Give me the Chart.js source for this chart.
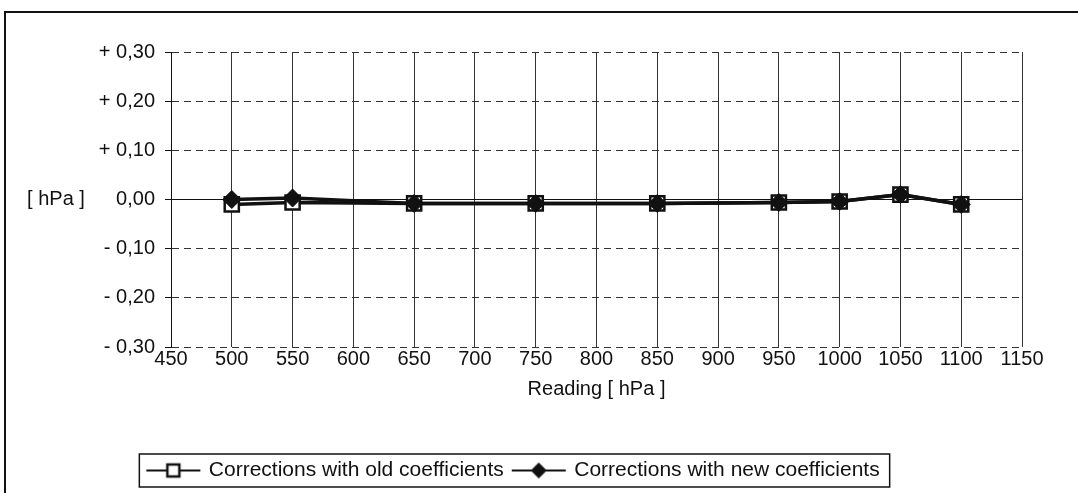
<!DOCTYPE html>
<html>
<head>
<meta charset="utf-8">
<script src="https://cdn.jsdelivr.net/npm/chart.js@4"></script>
<style>
  html, body { margin: 0; padding: 0; background: #fff; }
  #frame {
    position: absolute; left: 4px; top: 11px;
    width: 1072px; height: 480px;
    border-left: 2px solid #111; border-top: 2px solid #111;
  }
  canvas { display: block; }
</style>
</head>
<body>
<div id="frame"><canvas id="chart" width="1072" height="480"></canvas></div>
<script>
const readings = [500, 550, 650, 750, 850, 950, 1000, 1050, 1100];
const oldCorrections = [-0.010, -0.006, -0.008, -0.008, -0.008, -0.006, -0.004, 0.010, -0.010];
const newCorrections = [0.000, 0.003, -0.008, -0.008, -0.008, -0.006, -0.004, 0.010, -0.010];
const seriesNames = ['Corrections with old coefficients', 'Corrections with new coefficients'];

const FONT = 'Liberation Sans, Arial, sans-serif';
const INK = '#111';

function toPoints(values) {
    return readings.map((x, i) => ({ x: x, y: values[i] }));
}

function fmtTick(v) {
    if (Math.abs(v) < 1e-9) return '0,00';
    const s = Math.abs(v).toFixed(2).replace('.', ',');
    return (v > 0 ? '+ ' : '- ') + s;
}

// line + marker swatch for the legend
function legendIcon(style) {
    const c = document.createElement('canvas');
    c.width = 56; c.height = 18;
    const g = c.getContext('2d');
    g.strokeStyle = INK;
    g.lineWidth = 2;
    g.beginPath(); g.moveTo(1, 9); g.lineTo(55, 9); g.stroke();
    if (style === 'rect') {
        g.fillStyle = '#fff';
        g.lineWidth = 2.5;
        g.fillRect(22, 3, 12, 12);
        g.strokeRect(22, 3, 12, 12);
    } else {
        g.fillStyle = INK;
        g.beginPath();
        g.moveTo(28, 1); g.lineTo(36, 9); g.lineTo(28, 17); g.lineTo(20, 9);
        g.closePath(); g.fill();
    }
    return c;
}
const icons = [legendIcon('rect'), legendIcon('rectRot')];

const extras = {
    id: 'extras',
    afterDraw(chart) {
        const ctx = chart.ctx;
        const y = chart.scales.y;
        ctx.save();
        // y axis caption, horizontal like the original
        ctx.fillStyle = INK;
        ctx.font = '20px ' + FONT;
        ctx.textAlign = 'center';
        ctx.textBaseline = 'middle';
        ctx.fillText('[ hPa ]', 50, y.getPixelForValue(0));
        // frame round the legend items
        const boxes = chart.legend.legendHitBoxes;
        if (boxes && boxes.length) {
            const l = Math.min(...boxes.map(b => b.left)) - 9;
            const r = Math.max(...boxes.map(b => b.left + b.width)) + 10;
            const t = Math.min(...boxes.map(b => b.top)) - 6;
            const bt = Math.max(...boxes.map(b => b.top + b.height)) + 6;
            ctx.strokeStyle = INK;
            ctx.lineWidth = 1.5;
            ctx.strokeRect(l, t, r - l, bt - t);
        }
        ctx.restore();
    }
};

new Chart(document.getElementById('chart'), {
    type: 'line',
    data: {
        datasets: [
            {
                label: seriesNames[0],
                data: toPoints(oldCorrections),
                borderColor: INK,
                borderWidth: 3.5,
                pointStyle: 'rect',
                pointRadius: 10,
                pointBorderWidth: 2.5,
                pointBackgroundColor: '#fff',
                pointBorderColor: INK,
                order: 1
            },
            {
                label: seriesNames[1],
                data: toPoints(newCorrections),
                borderColor: INK,
                borderWidth: 3.5,
                pointStyle: 'rectRot',
                pointRadius: 9,
                pointBorderWidth: 1,
                pointBackgroundColor: INK,
                pointBorderColor: INK,
                order: 0
            }
        ]
    },
    options: {
        responsive: false,
        animation: false,
        events: [],
        layout: { padding: { top: 39, right: 56, bottom: 2, left: 0 } },
        scales: {
            x: {
                type: 'linear',
                min: 450,
                max: 1150,
                afterFit: s => { s.height = 103; },
                ticks: {
                    stepSize: 50,
                    padding: 0,
                    color: INK,
                    font: { family: FONT, size: 20 },
                    maxRotation: 0,
                    callback: v => String(v)
                },
                grid: { color: '#333', lineWidth: 1, drawTicks: false, tickLength: 0 },
                border: { display: false },
                title: {
                    display: true,
                    text: 'Reading [ hPa ]',
                    color: INK,
                    font: { family: FONT, size: 20 },
                    padding: { top: 4, bottom: 49 }
                }
            },
            y: {
                min: -0.3,
                max: 0.3,
                afterFit: s => { s.width = 165; },
                ticks: {
                    stepSize: 0.1,
                    padding: 10,
                    color: INK,
                    font: { family: FONT, size: 20 },
                    callback: v => fmtTick(v)
                },
                grid: {
                    color: ctx => (ctx.tick && Math.abs(ctx.tick.value) < 1e-9) ? INK : '#333',
                    lineWidth: 1,
                    tickLength: 6,
                    tickColor: INK,
                    tickBorderDash: []
                },
                border: {
                    display: true,
                    color: INK,
                    width: 1,
                    dash: ctx => (ctx.tick && Math.abs(ctx.tick.value) < 1e-9) ? [] : [7, 5]
                }
            }
        },
        plugins: {
            tooltip: { enabled: false },
            legend: {
                position: 'bottom',
                labels: {
                    color: INK,
                    font: { family: FONT, size: 21 },
                    padding: 10,
                    usePointStyle: true,
                    pointStyleWidth: 50,
                    generateLabels: chart => chart.data.datasets.map((ds, i) => ({
                        text: ds.label,
                        pointStyle: icons[i],
                        fontColor: INK,
                        strokeStyle: INK,
                        lineWidth: 0,
                        hidden: false,
                        datasetIndex: i
                    }))
                }
            }
        }
    },
    plugins: [extras]
});
</script>
</body>
</html>
